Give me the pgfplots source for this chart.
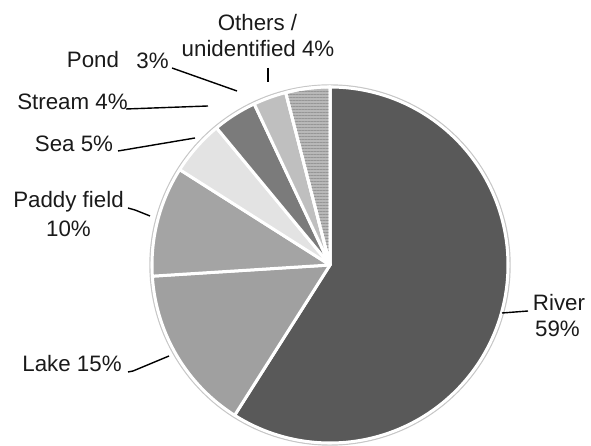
\documentclass[border=0pt]{standalone}
\usepackage{fontspec}
\setmainfont{Liberation Sans}
\usepackage{pgfplots}
\pgfplotsset{compat=1.18}
\usetikzlibrary{patterns.meta}
\definecolor{cRiver}{HTML}{595959}
\definecolor{cLake}{HTML}{A0A0A0}
\definecolor{cPaddy}{HTML}{A4A4A4}
\definecolor{cSea}{HTML}{E3E3E3}
\definecolor{cStream}{HTML}{7B7B7B}
\definecolor{cPond}{HTML}{BFBFBF}
\definecolor{cOthers}{HTML}{B8B8B8}
\definecolor{cOthersLine}{HTML}{969696}
\definecolor{cText}{HTML}{1A1A1A}
\tikzset{lbl/.style={font=\fontsize{11.2}{14}\selectfont, text=cText, inner sep=0pt, anchor=base}}
% slice: cumulative start (%), value (%), style
\newcommand{\pieslice}[3]{%
  \addplot[#3, draw=white, line width=1.5bp, line join=round,
    domain={90-3.6*(#1+#2)}:{90-3.6*(#1)}, samples=120, variable=\t]
    ({330+178*cos(t)},{177+178*sin(t)}) -- (axis cs:330,177) -- cycle;}
\begin{document}
\begin{tikzpicture}
\begin{axis}[
  width=295.5bp, height=221bp, scale only axis,
  xmin=0, xmax=591, ymin=0, ymax=442,
  hide axis, clip=false,
]
\addplot[draw=none] coordinates {(0,0) (591,442)};
% faint outer ring
\addplot[draw=black!22, line width=0.7bp, domain=0:360, samples=180, variable=\t]
  ({330+180*cos(t)},{177+180*sin(t)});
\pieslice{0}{59}{fill=cRiver}
\pieslice{59}{15}{fill=cLake}
\pieslice{74}{10}{fill=cPaddy}
\pieslice{84}{5}{fill=cSea}
\pieslice{89}{4}{fill=cStream}
\pieslice{93}{3}{fill=cPond}
\pieslice{96}{4}{fill=cOthers}
\addplot[draw=none, pattern={Lines[angle=0, distance=1.5bp, line width=0.6bp]}, pattern color=cOthersLine,
  domain={90-3.6*100}:{90-3.6*96}, samples=60, variable=\t]
  ({330+176.5*cos(t)},{177+176.5*sin(t)}) -- (axis cs:330,177) -- cycle;
\addplot[draw=white, line width=1.5bp, line join=round, domain={90-3.6*100}:{90-3.6*96}, samples=60, variable=\t]
  ({330+178*cos(t)},{177+178*sin(t)}) -- (axis cs:330,177) -- cycle;
% leader lines
\addplot[black, line width=0.7bp] coordinates {(268,374) (268,360)};
\addplot[black, line width=0.7bp] coordinates {(172,374) (237,351)};
\addplot[black, line width=0.7bp] coordinates {(126,333) (208,336)};
\addplot[black, line width=0.7bp] coordinates {(118,291) (195,304)};
\addplot[black, line width=0.7bp] coordinates {(128,234) (135,232) (150,226)};
\addplot[black, line width=0.7bp] coordinates {(128,70) (133,71) (169,86)};
\addplot[black, line width=0.7bp] coordinates {(502,129) (528,131)};
% labels
\node[lbl] at (axis cs:257.5,411) {Others /};
\node[lbl] at (axis cs:258,385) {unidentified 4\%};
\node[lbl] at (axis cs:93,374) {Pond};
\node[lbl] at (axis cs:152.5,373) {3\%};
\node[lbl] at (axis cs:72.5,332) {Stream 4\%};
\node[lbl] at (axis cs:74,290) {Sea 5\%};
\node[lbl] at (axis cs:68.5,234) {Paddy field};
\node[lbl] at (axis cs:68.5,205) {10\%};
\node[lbl] at (axis cs:72,70) {Lake 15\%};
\node[lbl] at (axis cs:559,131) {River};
\node[lbl] at (axis cs:557.5,105) {59\%};
\end{axis}
\end{tikzpicture}
\end{document}
